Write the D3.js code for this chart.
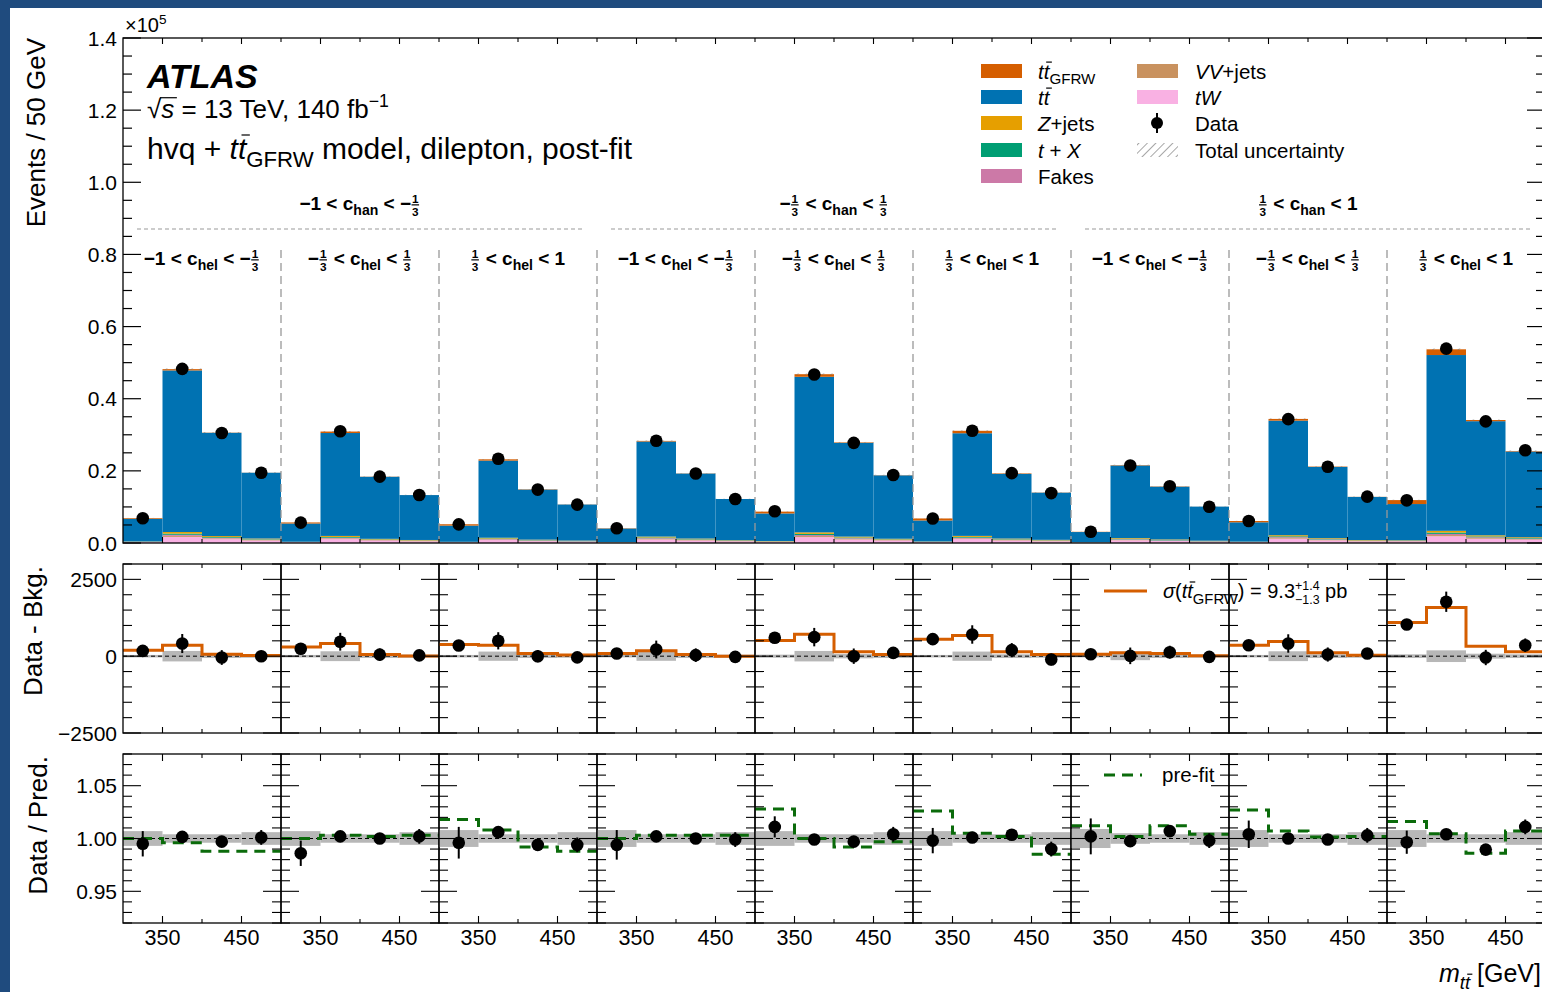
<!DOCTYPE html>
<html><head><meta charset="utf-8">
<script src="https://cdn.jsdelivr.net/npm/d3@7/dist/d3.min.js"></script>
<style>body{margin:0;background:#fff}svg{display:block}text{font-family:"Liberation Sans",Arial,Helvetica,sans-serif;white-space:pre}</style>
</head><body><svg id="c" width="1542" height="992"></svg>
<script>
// ---------------- DATA ----------------
const binEdges = [300, 350, 400, 450, 500];
const binCenters = [325, 375, 425, 475];
const xTickValues = [350, 450];
const xTickLabels = ["350", "450"];
const mainYTickValues = [0, 20000, 40000, 60000, 80000, 100000, 120000, 140000];
const mainYTickLabels = ["0.0", "0.2", "0.4", "0.6", "0.8", "1.0", "1.2", "1.4"];
const midYTickValues = [-2500, 0, 2500];
const midYTickLabels = ["\u22122500", "0", "2500"];
const ratioYTickValues = [0.95, 1.00, 1.05];
const ratioYTickLabels = ["0.95", "1.00", "1.05"];

// 9 regions x 4 m_tt bins (events)
const ttGFRW = [195,357,65,25, 300,410,55,10, 380,357,90,35, 87,174,54,0, 511,717,141,54, 554,673,141,54, 65,109,87,11, 358,478,109,33, 1098,1587,326,141];
const ttbar  = [6280,44800,28620,18240, 5050,28530,17190,12450, 4490,21380,13880,10010, 3760,26350,18020,11430, 7650,43130,25990,17570, 5820,28460,17930,13070, 2840,20130,14630,9460, 5360,31750,19750,11950, 10050,48730,31630,23760];
const zjets  = [60,430,280,180, 50,280,170,120, 50,210,130,100, 40,250,170,110, 80,420,250,170, 60,280,170,130, 30,190,140,90, 50,310,190,120, 110,480,310,230];
const tX     = [50,340,210,140, 40,220,130,90, 40,160,100,70, 30,200,140,90, 60,330,200,130, 50,220,140,100, 20,150,110,70, 40,240,150,90, 80,380,240,180];
const fakes  = [40,290,180,120, 30,190,110,80, 30,140,90,60, 20,170,120,70, 50,280,170,110, 40,190,120,80, 20,130,90,60, 40,210,130,80, 70,320,200,150];
const vvjets = [40,290,180,120, 30,190,110,80, 30,140,90,60, 20,170,120,70, 50,280,170,110, 40,190,120,80, 20,130,90,60, 40,210,130,80, 70,320,200,150];
const tW     = [240,1690,1070,680, 200,1080,640,470, 180,810,520,370, 140,990,680,430, 300,1640,980,660, 240,1090,680,490, 110,760,550,350, 210,1200,740,450, 420,1880,1190,890];
const dataEvents = [6880,48260,30490,19480, 5640,30960,18400,13320, 5170,23340,14810,10630, 4100,28340,19280,12180, 8790,46700,27760,18860, 6800,31130,19360,13840, 3100,21500,15740,10070, 6100,34340,21150,12850, 11830,53880,33730,25720];

// Data - Bkg.
const dataMinusBkg = [172,412,-43,0, 240,470,50,25, 350,500,0,-40, 87,217,33,-22, 598,620,0,109, 554,706,196,-110, 65,11,130,-22, 358,413,54,87, 1032,1771,-43,358];
const dataMinusBkgErr = [100,310,240,180, 90,290,200,160, 90,280,200,160, 90,290,220,170, 110,300,250,190, 100,300,230,190, 80,270,210,170, 100,300,230,180, 130,330,250,220];
const bkgUnc = [40,170,60,50, 40,160,60,50, 40,150,60,50, 40,150,60,50, 50,170,70,60, 40,150,60,50, 40,130,60,50, 40,160,60,50, 60,190,80,60];

// Data / Pred.
const ratio = [0.995,1.0015,0.997,1.001, 0.986,1.002,1.000,1.002, 0.996,1.006,0.994,0.994, 0.994,1.002,1.000,0.999, 1.011,0.999,0.997,1.004, 0.998,1.001,1.0035,0.990, 1.002,0.9975,1.007,0.998, 1.004,1.000,0.999,1.003, 0.9965,1.004,0.9895,1.011];
const ratioErr = [0.012,0.004,0.005,0.007, 0.012,0.004,0.005,0.007, 0.015,0.004,0.005,0.007, 0.014,0.004,0.005,0.007, 0.010,0.004,0.005,0.007, 0.012,0.004,0.005,0.007, 0.017,0.004,0.005,0.007, 0.013,0.004,0.005,0.007, 0.011,0.004,0.005,0.007];
const ratioUnc = [0.007,0.004,0.004,0.006, 0.007,0.004,0.004,0.006, 0.008,0.004,0.004,0.006, 0.008,0.004,0.004,0.006, 0.007,0.004,0.004,0.006, 0.007,0.004,0.004,0.006, 0.009,0.005,0.004,0.006, 0.008,0.004,0.004,0.006, 0.008,0.004,0.004,0.006];
const preFit = [1.000,0.996,0.988,0.988, 1.000,1.003,1.002,1.003, 1.018,1.008,0.992,0.988, 1.000,1.003,1.003,1.003, 1.028,1.000,0.992,0.997, 1.026,1.005,1.002,0.985, 1.012,1.002,1.012,1.004, 1.027,1.007,1.0015,1.002, 1.016,1.0045,0.986,1.007];

const stackKeys = ["tW","vvjets","fakes","tX","zjets","ttbar","ttGFRW"];
const colors = {ttGFRW:"#d55e00", ttbar:"#0072b2", zjets:"#e69f00", tX:"#009e73", fakes:"#cc79a7", vvjets:"#c9925f", tW:"#f9b1e3"};

// region labels: c_han groups, c_hel per panel
const chanLabels = [
  [{t:"\u22121 < c"},{sub:"han"},{t:" < \u2212"},{frac:["1","3"]}],
  [{t:"\u2212"},{frac:["1","3"]},{t:" < c"},{sub:"han"},{t:" < "},{frac:["1","3"]}],
  [{frac:["1","3"]},{t:" < c"},{sub:"han"},{t:" < 1"}]
];
const chelLabels = [
  [{t:"\u22121 < c"},{sub:"hel"},{t:" < \u2212"},{frac:["1","3"]}],
  [{t:"\u2212"},{frac:["1","3"]},{t:" < c"},{sub:"hel"},{t:" < "},{frac:["1","3"]}],
  [{frac:["1","3"]},{t:" < c"},{sub:"hel"},{t:" < 1"}]
];

// ---------------- LAYOUT ----------------
const L = 123, PW = 158, NP = 9, R = L + PW*NP;
const main = {top:38, bottom:543}, mid = {top:564, bottom:733}, rat = {top:754, bottom:923};
const yMain = d3.scaleLinear().domain([0,140000]).range([main.bottom, main.top]);
const yMid = d3.scaleLinear().domain([-2500,3000]).range([mid.bottom, mid.top]);
const yRat = d3.scaleLinear().domain([0.92,1.08]).range([rat.bottom, rat.top]);
const xPanel = k => d3.scaleLinear().domain([300,500]).range([L+k*PW, L+(k+1)*PW]);

const svg = d3.select("#c");
svg.append("rect").attr("width",1542).attr("height",992).attr("fill","#1f4b7e");
svg.append("rect").attr("x",10).attr("y",8).attr("width",1532).attr("height",984).attr("fill","#fff");

const defs = svg.append("defs");
const pat = defs.append("pattern").attr("id","hatch").attr("patternUnits","userSpaceOnUse")
  .attr("width",6).attr("height",6).attr("patternTransform","rotate(45)");
pat.append("line").attr("x1",0).attr("y1",0).attr("x2",0).attr("y2",6).attr("stroke","#777").attr("stroke-width",1.3);

// rich text helper
function rich(parent, x, y, parts, anchor, base){
  const g = parent.append("g");
  let cx = 0;
  const size = base.size, weight = base.weight || "normal";
  for (const p of parts){
    if (p.frac){
      const fs = size*0.62;
      const a = g.append("text").attr("font-size",fs).attr("font-weight",weight).attr("text-anchor","middle").text(p.frac[0]);
      const b = g.append("text").attr("font-size",fs).attr("font-weight",weight).attr("text-anchor","middle").text(p.frac[1]);
      const w = Math.max(a.node().getComputedTextLength(), b.node().getComputedTextLength()) + 2;
      a.attr("x",cx+w/2).attr("y",-size*0.36);
      b.attr("x",cx+w/2).attr("y",size*0.3);
      g.append("line").attr("x1",cx+0.5).attr("x2",cx+w-0.5).attr("y1",-size*0.27).attr("y2",-size*0.27)
        .attr("stroke","#000").attr("stroke-width",1.2);
      cx += w + 1;
    } else if (p.supsub){
      const fs = size*0.62;
      const a = g.append("text").attr("x",cx).attr("y",-size*0.42).attr("font-size",fs).attr("font-weight",weight).text(p.supsub[0]);
      const b = g.append("text").attr("x",cx).attr("y",size*0.28).attr("font-size",fs).attr("font-weight",weight).text(p.supsub[1]);
      cx += Math.max(a.node().getComputedTextLength(), b.node().getComputedTextLength());
    } else {
      let txt = p.t, fs = size, dy = 0;
      if (p.sub !== undefined){ txt = p.sub; fs = size*0.74; dy = size*0.28; }
      if (p.sup !== undefined){ txt = p.sup; fs = size*0.68; dy = -size*0.42; }
      const t = g.append("text").attr("x",cx).attr("y",dy).attr("font-size",fs)
        .attr("font-weight",p.bold ? "bold" : weight)
        .attr("font-style",p.italic ? "italic" : "normal").text(txt);
      const w = t.node().getComputedTextLength();
      if (p.ttbar){
        const tmp = g.append("text").attr("font-size",fs).attr("font-style","italic").text("t");
        const w1 = tmp.node().getComputedTextLength(); tmp.remove();
        g.append("line").attr("x1",cx+w1+fs*0.12).attr("x2",cx+w+fs*0.12)
          .attr("y1",dy-fs*0.8).attr("y2",dy-fs*0.8).attr("stroke","#000").attr("stroke-width",1.2);
      }
      if (p.overline){
        g.append("line").attr("x1",cx-fs*0.05).attr("x2",cx+w+fs*0.1).attr("y1",dy-fs*0.78).attr("y2",dy-fs*0.78)
          .attr("stroke","#000").attr("stroke-width",1.2);
      }
      cx += w;
    }
  }
  const shift = anchor === "middle" ? -cx/2 : anchor === "end" ? -cx : 0;
  g.attr("transform",`translate(${x+shift},${y})`);
  return g;
}

// ---------------- MAIN PANEL ----------------
const rows = ttbar.map((_,i)=>({ttGFRW:ttGFRW[i], ttbar:ttbar[i], zjets:zjets[i], tX:tX[i], fakes:fakes[i], vvjets:vvjets[i], tW:tW[i]}));
const stacked = d3.stack().keys(stackKeys)(rows);
const gMain = svg.append("g");
for (const layer of stacked){
  layer.forEach((d,i)=>{
    const k = Math.floor(i/4), b = i%4, x = xPanel(k);
    gMain.append("rect").attr("x",x(binEdges[b])).attr("width",x(binEdges[b+1])-x(binEdges[b]))
      .attr("y",yMain(d[1])).attr("height",Math.max(0,yMain(d[0])-yMain(d[1])))
      .attr("fill",colors[layer.key]);
  });
}
rows.forEach((r,i)=>{
  const k = Math.floor(i/4), b = i%4, x = xPanel(k);
  const tot = stackKeys.reduce((s,key)=>s+r[key],0);
  gMain.append("rect").attr("x",x(binEdges[b])).attr("width",x(binEdges[b+1])-x(binEdges[b]))
    .attr("y",yMain(tot*(1+ratioUnc[i]))).attr("height",yMain(tot*(1-ratioUnc[i]))-yMain(tot*(1+ratioUnc[i])))
    .attr("fill","url(#hatch)");
});
for (let k=1;k<NP;k++){
  gMain.append("line").attr("x1",L+k*PW).attr("x2",L+k*PW).attr("y1",250).attr("y2",main.bottom)
    .attr("stroke","#999").attr("stroke-width",1.3).attr("stroke-dasharray","8,5");
}
for (let g=0; g<3; g++){
  gMain.append("line").attr("x1",L+g*3*PW+14).attr("x2",L+(g+1)*3*PW-15).attr("y1",229).attr("y2",229)
    .attr("stroke","#999").attr("stroke-width",1.2).attr("stroke-dasharray","4,3");
  rich(svg, L+(g*3+1.5)*PW, 210, chanLabels[g], "middle", {size:19, weight:"bold"});
}
for (let k=0;k<NP;k++){
  rich(svg, L+(k+0.5)*PW, 265, chelLabels[k%3], "middle", {size:19, weight:"bold"});
}
dataEvents.forEach((v,i)=>{
  const k = Math.floor(i/4), b = i%4, x = xPanel(k);
  gMain.append("circle").attr("cx",x(binCenters[b])).attr("cy",yMain(v)).attr("r",6.3).attr("fill","#000");
});
gMain.append("rect").attr("x",L).attr("y",main.top).attr("width",R-L).attr("height",main.bottom-main.top).attr("fill","none").attr("stroke","#000").attr("stroke-width",1.3);
for (let v=0; v<=140000; v+=5000){
  const len = v%20000===0 ? 18 : 9, y = yMain(v);
  gMain.append("line").attr("x1",L).attr("x2",L+len).attr("y1",y).attr("y2",y).attr("stroke","#000").attr("stroke-width",1.2);
  gMain.append("line").attr("x1",R).attr("x2",R-len).attr("y1",y).attr("y2",y).attr("stroke","#000").attr("stroke-width",1.2);
}
mainYTickValues.forEach((v,i)=>{
  svg.append("text").attr("x",117).attr("y",yMain(v)+7.5).attr("text-anchor","end").attr("font-size",21).text(mainYTickLabels[i]);
});
for (let k=0;k<NP;k++){
  const x = xPanel(k);
  [350,400,450,500].forEach(v=>{
    const len = (v===350||v===450) ? 6 : 4;
    gMain.append("line").attr("x1",x(v)).attr("x2",x(v)).attr("y1",main.top).attr("y2",main.top+len).attr("stroke","#000").attr("stroke-width",1.1);
    gMain.append("line").attr("x1",x(v)).attr("x2",x(v)).attr("y1",main.bottom).attr("y2",main.bottom-len).attr("stroke","#000").attr("stroke-width",1.1);
  });
}
rich(svg, 125, 32, [{t:"\u00d710"},{sup:"5"}], "start", {size:20});

// title texts
svg.append("text").attr("x",147).attr("y",88).attr("font-size",34).attr("font-weight","bold").attr("font-style","italic").text("ATLAS");
rich(svg, 147, 118, [{t:"\u221a"},{t:"s",italic:true,overline:true},{t:" = 13 TeV, 140 fb"},{sup:"\u22121"}], "start", {size:26});
rich(svg, 147, 159, [{t:"hvq + "},{t:"tt",italic:true,ttbar:true},{sub:"GFRW"},{t:" model, dilepton, post-fit"}], "start", {size:30});

// legend
const legend1 = [
  {key:"ttGFRW", parts:[{t:"tt",italic:true,ttbar:true},{sub:"GFRW"}]},
  {key:"ttbar", parts:[{t:"tt",italic:true,ttbar:true}]},
  {key:"zjets", parts:[{t:"Z",italic:true},{t:"+jets"}]},
  {key:"tX", parts:[{t:"t",italic:true},{t:" + "},{t:"X",italic:true}]},
  {key:"fakes", parts:[{t:"Fakes"}]}
];
const legRowY = [71, 97, 123, 150, 176];
legend1.forEach((e,i)=>{
  svg.append("rect").attr("x",981).attr("y",legRowY[i]-7).attr("width",41).attr("height",14).attr("fill",colors[e.key]);
  rich(svg, 1038, legRowY[i]+7.5, e.parts, "start", {size:20.5});
});
const legend2 = [
  {key:"vvjets", parts:[{t:"VV",italic:true},{t:"+jets"}]},
  {key:"tW", parts:[{t:"tW",italic:true}]}
];
legend2.forEach((e,i)=>{
  svg.append("rect").attr("x",1137).attr("y",legRowY[i]-7).attr("width",41).attr("height",14).attr("fill",colors[e.key]);
  rich(svg, 1195, legRowY[i]+7.5, e.parts, "start", {size:20.5});
});
svg.append("line").attr("x1",1157).attr("x2",1157).attr("y1",legRowY[2]-10).attr("y2",legRowY[2]+10).attr("stroke","#000").attr("stroke-width",2);
svg.append("circle").attr("cx",1157).attr("cy",legRowY[2]).attr("r",6).attr("fill","#000");
rich(svg, 1195, legRowY[2]+7.5, [{t:"Data"}], "start", {size:20.5});
svg.append("rect").attr("x",1137).attr("y",legRowY[3]-7).attr("width",41).attr("height",14).attr("fill","url(#hatch)");
rich(svg, 1195, legRowY[3]+7.5, [{t:"Total uncertainty"}], "start", {size:20.5});

// y axis titles
svg.append("text").attr("transform",`translate(45,${main.top}) rotate(-90)`).attr("text-anchor","end").attr("font-size",26).text("Events / 50 GeV");
svg.append("text").attr("transform",`translate(42,${mid.top+2}) rotate(-90)`).attr("text-anchor","end").attr("font-size",26).text("Data - Bkg.");
svg.append("text").attr("transform",`translate(47,${rat.top+2}) rotate(-90)`).attr("text-anchor","end").attr("font-size",26).text("Data / Pred.");

// ---------------- SUB PANELS ----------------
function stepPath(x, y, vals){
  const pts = [];
  vals.forEach((v,b)=>{ pts.push([x(binEdges[b]), y(v)]); pts.push([x(binEdges[b+1]), y(v)]); });
  return d3.line()(pts);
}
for (let k=0;k<NP;k++){
  const x = xPanel(k), x0 = L+k*PW, x1 = L+(k+1)*PW;
  const idx = [0,1,2,3].map(b=>k*4+b);
  const gm = svg.append("g");
  idx.forEach((i,b)=>{
    gm.append("rect").attr("x",x(binEdges[b])).attr("width",x(binEdges[b+1])-x(binEdges[b]))
      .attr("y",yMid(bkgUnc[i])).attr("height",yMid(-bkgUnc[i])-yMid(bkgUnc[i])).attr("fill","#aaa").attr("opacity",0.85);
  });
  gm.append("line").attr("x1",x0).attr("x2",x1).attr("y1",yMid(0)).attr("y2",yMid(0)).attr("stroke","#000").attr("stroke-width",1).attr("stroke-dasharray","4,3");
  gm.append("path").attr("d",stepPath(x,yMid,idx.map(i=>ttGFRW[i]))).attr("fill","none").attr("stroke",colors.ttGFRW).attr("stroke-width",3);
  idx.forEach((i,b)=>{
    const cx = x(binCenters[b]);
    gm.append("line").attr("x1",cx).attr("x2",cx).attr("y1",yMid(dataMinusBkg[i]+dataMinusBkgErr[i])).attr("y2",yMid(dataMinusBkg[i]-dataMinusBkgErr[i])).attr("stroke","#000").attr("stroke-width",2);
    gm.append("circle").attr("cx",cx).attr("cy",yMid(dataMinusBkg[i])).attr("r",6.3).attr("fill","#000");
  });
  gm.append("rect").attr("x",x0).attr("y",mid.top).attr("width",PW).attr("height",mid.bottom-mid.top).attr("fill","none").attr("stroke","#000").attr("stroke-width",1.3);
  for (let v=-2500; v<=3000; v+=500){
    const len = v%2500===0 ? 18 : 9, y = yMid(v);
    gm.append("line").attr("x1",x0).attr("x2",x0+len).attr("y1",y).attr("y2",y).attr("stroke","#000").attr("stroke-width",1.1);
    gm.append("line").attr("x1",x1).attr("x2",x1-len).attr("y1",y).attr("y2",y).attr("stroke","#000").attr("stroke-width",1.1);
  }
  [350,400,450].forEach(v=>{
    const len = v===400 ? 4 : 6;
    gm.append("line").attr("x1",x(v)).attr("x2",x(v)).attr("y1",mid.top).attr("y2",mid.top+len).attr("stroke","#000").attr("stroke-width",1.1);
    gm.append("line").attr("x1",x(v)).attr("x2",x(v)).attr("y1",mid.bottom).attr("y2",mid.bottom-len).attr("stroke","#000").attr("stroke-width",1.1);
  });
  const gr = svg.append("g");
  idx.forEach((i,b)=>{
    gr.append("rect").attr("x",x(binEdges[b])).attr("width",x(binEdges[b+1])-x(binEdges[b]))
      .attr("y",yRat(1+ratioUnc[i])).attr("height",yRat(1-ratioUnc[i])-yRat(1+ratioUnc[i])).attr("fill","#aaa").attr("opacity",0.85);
  });
  gr.append("line").attr("x1",x0).attr("x2",x1).attr("y1",yRat(1)).attr("y2",yRat(1)).attr("stroke","#000").attr("stroke-width",1).attr("stroke-dasharray","4,3");
  gr.append("path").attr("d",stepPath(x,yRat,idx.map(i=>preFit[i]))).attr("fill","none").attr("stroke","#0b6b0b").attr("stroke-width",3).attr("stroke-dasharray","11,7");
  idx.forEach((i,b)=>{
    const cx = x(binCenters[b]);
    gr.append("line").attr("x1",cx).attr("x2",cx).attr("y1",yRat(ratio[i]+ratioErr[i])).attr("y2",yRat(ratio[i]-ratioErr[i])).attr("stroke","#000").attr("stroke-width",2);
    gr.append("circle").attr("cx",cx).attr("cy",yRat(ratio[i])).attr("r",6.3).attr("fill","#000");
  });
  gr.append("rect").attr("x",x0).attr("y",rat.top).attr("width",PW).attr("height",rat.bottom-rat.top).attr("fill","none").attr("stroke","#000").attr("stroke-width",1.3);
  for (let j=92; j<=108; j++){
    const v = j/100, len = (j%5===0) ? 18 : 9, y = yRat(v);
    gr.append("line").attr("x1",x0).attr("x2",x0+len).attr("y1",y).attr("y2",y).attr("stroke","#000").attr("stroke-width",1.1);
    gr.append("line").attr("x1",x1).attr("x2",x1-len).attr("y1",y).attr("y2",y).attr("stroke","#000").attr("stroke-width",1.1);
  }
  [350,400,450].forEach(v=>{
    const len = v===400 ? 4 : 7;
    gr.append("line").attr("x1",x(v)).attr("x2",x(v)).attr("y1",rat.top).attr("y2",rat.top+len).attr("stroke","#000").attr("stroke-width",1.1);
    gr.append("line").attr("x1",x(v)).attr("x2",x(v)).attr("y1",rat.bottom).attr("y2",rat.bottom-len).attr("stroke","#000").attr("stroke-width",1.1);
  });
  xTickValues.forEach((v,j)=>{
    svg.append("text").attr("x",x(v)).attr("y",945).attr("text-anchor","middle").attr("font-size",21.5).text(xTickLabels[j]);
  });
}
midYTickValues.forEach((v,i)=>{
  svg.append("text").attr("x",117).attr("y",yMid(v)+7.5).attr("text-anchor","end").attr("font-size",21).text(midYTickLabels[i]);
});
ratioYTickValues.forEach((v,i)=>{
  svg.append("text").attr("x",117).attr("y",yRat(v)+7.5).attr("text-anchor","end").attr("font-size",21).text(ratioYTickLabels[i]);
});

// sub-panel legends
svg.append("line").attr("x1",1104).attr("x2",1147).attr("y1",591).attr("y2",591).attr("stroke",colors.ttGFRW).attr("stroke-width",3);
rich(svg, 1163, 598, [{t:"\u03c3",italic:true},{t:"("},{t:"tt",italic:true,ttbar:true},{sub:"GFRW"},{t:") = 9.3"},{supsub:["+1.4","\u22121.3"]},{t:" pb"}], "start", {size:20});
svg.append("line").attr("x1",1104).attr("x2",1142).attr("y1",775).attr("y2",775).attr("stroke","#0b6b0b").attr("stroke-width",3).attr("stroke-dasharray","11,7");
rich(svg, 1162, 782, [{t:"pre-fit"}], "start", {size:20.5});

// x axis title
rich(svg, 1541, 982, [{t:"m",italic:true},{sub:"tt",italic:true,ttbar:true},{t:" [GeV]"}], "end", {size:25});
</script></body></html>
